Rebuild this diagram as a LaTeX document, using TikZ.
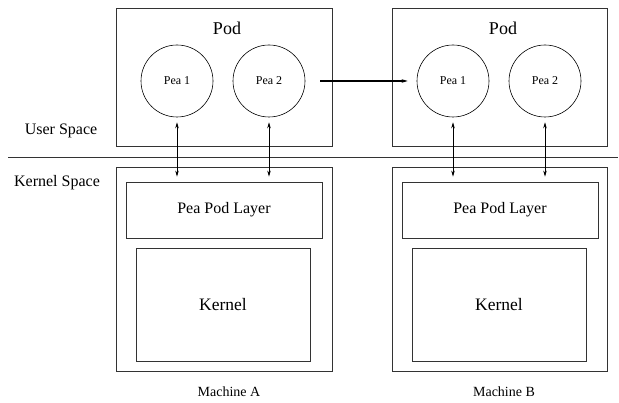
\documentclass[tikz,border=0pt]{standalone}
\usepackage{fontspec}
\setmainfont{Liberation Serif}
\usepackage{tikz}
\usetikzlibrary{arrows.meta,positioning,calc}

\tikzset{
  box/.style={rectangle,draw=black!80,line width=0.8pt,inner sep=0pt},
  pea/.style={circle,draw,line width=0.6pt,minimum size=72pt,inner sep=0pt,font=\fontsize{12}{14}\selectfont},
  link/.style={<->,line width=0.6pt,shorten <=5pt,shorten >=5pt},
}

\begin{document}
\begin{tikzpicture}[x=1pt,y=-1pt,>={Stealth[length=6pt,width=3.5pt]}]
\useasboundingbox (0,0) rectangle (619,403);
% machine A
\node[box,minimum width=216pt,minimum height=138pt] (podA) at (224,77) {};
\node[font=\fontsize{18}{20}\selectfont] (podAt) at (227,28) {Pod};
\node[pea] (pA1) at (177,81) {Pea 1};
\node[pea] (pA2) at (269,81) {Pea 2};
\node[box,minimum width=216pt,minimum height=204pt] (mA) at (224,269) {};
\node[box,minimum width=196pt,minimum height=56pt,font=\fontsize{16}{18}\selectfont] (lA) at (224,210) {Pea Pod Layer};
\node[box,minimum width=174pt,minimum height=113pt,font=\fontsize{17.5}{20}\selectfont] (kA) at (223,304.5) {Kernel};
\node[font=\fontsize{14}{16}\selectfont] (mAt) at (229,392) {Machine A};
% machine B
\node[box,minimum width=215pt,minimum height=138pt] (podB) at (499.5,77) {};
\node[font=\fontsize{18}{20}\selectfont] (podBt) at (503,28) {Pod};
\node[pea] (pB1) at (453,81) {Pea 1};
\node[pea] (pB2) at (545,81) {Pea 2};
\node[box,minimum width=215pt,minimum height=204pt] (mB) at (499.5,269) {};
\node[box,minimum width=196pt,minimum height=56pt,font=\fontsize{16}{18}\selectfont] (lB) at (500,210) {Pea Pod Layer};
\node[box,minimum width=174pt,minimum height=113pt,font=\fontsize{17.5}{20}\selectfont] (kB) at (499,304.5) {Kernel};
\node[font=\fontsize{14}{16}\selectfont] (mBt) at (504,392) {Machine B};
% spaces
\coordinate (sepL) at (8,157);
\coordinate (sepR) at (618,157);
\draw[black!80,line width=0.8pt] (sepL) -- (sepR);
\node[font=\fontsize{16}{18}\selectfont] (user) at (61,131) {User Space};
\node[font=\fontsize{16}{18}\selectfont] (kern) at (57,183) {Kernel Space};
% links
\draw[link] (pA1.south) -- (pA1.south |- lA.north);
\draw[link] (pA2.south) -- (pA2.south |- lA.north);
\draw[link] (pB1.south) -- (pB1.south |- lB.north);
\draw[link] (pB2.south) -- (pB2.south |- lB.north);
\draw[->,line width=1.5pt,shorten <=15pt,shorten >=9pt] (pA2.east) -- (pB1.west);
\end{tikzpicture}
\end{document}
